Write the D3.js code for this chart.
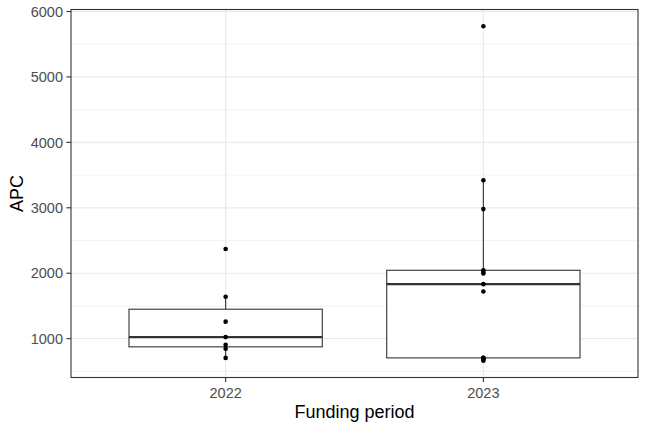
<!DOCTYPE html>
<html><head><meta charset="utf-8">
<script src="https://cdn.jsdelivr.net/npm/d3@7"></script>
<style>body{margin:0;background:#fff}svg{display:block;font-family:"Liberation Sans",Arial,sans-serif}</style>
</head><body>
<svg id="c" width="648" height="432"></svg>
<script>
const categories = ["2022", "2023"];
const apc2022 = [706, 845, 905, 1024, 1260, 1640, 2370];
const apc2023 = [662, 680, 695, 706, 708, 1720, 1833, 1995, 2020, 2045, 2980, 3420, 5775];
const yTicks = [1000, 2000, 3000, 4000, 5000, 6000];
const yMinor = [500, 1500, 2500, 3500, 4500, 5500];
const xTitle = "Funding period";
const yTitle = "APC";

const groups = [apc2022, apc2023];
const svg = d3.select("#c");
const m = {l:71, r:638, t:9.5, b:377.5};

const all = groups.flat();
const [mn, mx] = d3.extent(all);
const pad = (mx - mn) * 0.05;
const y = d3.scaleLinear().domain([mn - pad, mx + pad]).range([m.b, m.t]);
const x = d3.scaleLinear().domain([0.4, categories.length + 0.6]).range([m.l, m.r]);
const bw = x(1.375) - x(1);

const grid = svg.append("g");
grid.selectAll("line.mi").data(yMinor.filter(v => y(v) > m.t && y(v) < m.b)).join("line")
  .attr("x1", m.l).attr("x2", m.r).attr("y1", d => y(d)).attr("y2", d => y(d))
  .attr("stroke", "#ebebeb").attr("stroke-width", 0.6);
grid.selectAll("line.ma").data(yTicks).join("line")
  .attr("x1", m.l).attr("x2", m.r).attr("y1", d => y(d)).attr("y2", d => y(d))
  .attr("stroke", "#ebebeb").attr("stroke-width", 1.2);
grid.selectAll("line.vx").data(categories).join("line")
  .attr("x1", (d,i) => x(i+1)).attr("x2", (d,i) => x(i+1)).attr("y1", m.t).attr("y2", m.b)
  .attr("stroke", "#ebebeb").attr("stroke-width", 1.2);

groups.forEach((vals, i) => {
  const s = vals.slice().sort(d3.ascending);
  const q1 = d3.quantile(s, 0.25), med = d3.quantile(s, 0.5), q3 = d3.quantile(s, 0.75);
  const iqr = q3 - q1;
  const lo = d3.min(s.filter(v => v >= q1 - 1.5*iqr));
  const hi = d3.max(s.filter(v => v <= q3 + 1.5*iqr));
  const cx = x(i+1);
  const g = svg.append("g");
  g.append("line").attr("x1", cx).attr("x2", cx).attr("y1", y(q3)).attr("y2", y(hi)).attr("stroke", "#333").attr("stroke-width", 1.1);
  g.append("line").attr("x1", cx).attr("x2", cx).attr("y1", y(q1)).attr("y2", y(lo)).attr("stroke", "#333").attr("stroke-width", 1.1);
  g.append("rect").attr("x", cx - bw).attr("width", 2*bw).attr("y", y(q3)).attr("height", y(q1) - y(q3))
    .attr("fill", "#fff").attr("stroke", "#333").attr("stroke-width", 1.1);
  g.append("line").attr("x1", cx - bw).attr("x2", cx + bw).attr("y1", y(med)).attr("y2", y(med)).attr("stroke", "#333").attr("stroke-width", 2.2);
  g.selectAll("circle").data(vals).join("circle")
    .attr("cx", cx).attr("cy", d => y(d)).attr("r", 2.3).attr("fill", "#000");
});

svg.append("rect").attr("x", m.l).attr("y", m.t).attr("width", m.r - m.l).attr("height", m.b - m.t)
  .attr("fill", "none").attr("stroke", "#333").attr("stroke-width", 1.1);

// y axis
const ya = svg.append("g");
ya.selectAll("line").data(yTicks).join("line")
  .attr("x1", m.l - 4.6).attr("x2", m.l).attr("y1", d => y(d)).attr("y2", d => y(d))
  .attr("stroke", "#333").attr("stroke-width", 1.1);
ya.selectAll("text").data(yTicks).join("text")
  .attr("x", m.l - 8).attr("y", d => y(d)).attr("dy", "0.36em").attr("text-anchor", "end")
  .attr("font-size", 14.5).attr("fill", "#4d4d4d").text(d => d);

// x axis
const xa = svg.append("g");
xa.selectAll("line").data(categories).join("line")
  .attr("x1", (d,i) => x(i+1)).attr("x2", (d,i) => x(i+1)).attr("y1", m.b).attr("y2", m.b + 4.6)
  .attr("stroke", "#333").attr("stroke-width", 1.1);
xa.selectAll("text").data(categories).join("text")
  .attr("x", (d,i) => x(i+1)).attr("y", m.b + 20).attr("text-anchor", "middle")
  .attr("font-size", 14.5).attr("fill", "#4d4d4d").text(d => d);

svg.append("text").attr("x", (m.l + m.r)/2).attr("y", 418).attr("text-anchor", "middle")
  .attr("font-size", 18).attr("fill", "#000").text(xTitle);
svg.append("text").attr("transform", `translate(23,${(m.t + m.b)/2}) rotate(-90)`).attr("text-anchor", "middle")
  .attr("font-size", 18).attr("fill", "#000").text(yTitle);
</script>
</body></html>
